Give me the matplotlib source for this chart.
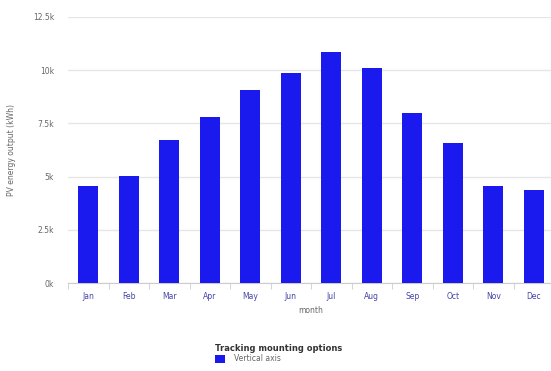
import matplotlib.pyplot as plt
import numpy as np

months = ["Jan", "Feb", "Mar", "Apr", "May", "Jun", "Jul", "Aug", "Sep", "Oct", "Nov", "Dec"]
vertical_axis = [4560, 5030, 6720, 7810, 9070, 9880, 10830, 10080, 7970, 6590, 4560, 4380]
y_ticks = [0, 2500, 5000, 7500, 10000, 12500]
y_tick_labels = ["0k", "2.5k", "5k", "7.5k", "10k", "12.5k"]

gris = "#666666"
azul = "#1a1aee"

fig = plt.figure(figsize=(5.51, 3.71), dpi=100)
# el eje se sale un poco por la derecha, como en la imagen original
ax = fig.add_axes([68 / 551, (371 - 283.3) / 371, 486 / 551, (283.3 - 16.7) / 371])

x = np.arange(len(months))
barras = ax.bar(x, vertical_axis, width=0.49, color=azul, label="Vertical axis", zorder=3)

ax.set_xlim(-0.5, len(months) - 0.5)
ax.set_ylim(0, 12500)
ax.set_yticks(y_ticks)
ax.set_yticklabels(y_tick_labels)
ax.set_xticks(x)
ax.set_xticklabels(months)
ax.set_xticks(np.arange(-0.5, len(months), 1), minor=True)

ax.grid(axis="y", color="#e6e6e6", linewidth=1, zorder=0)
for lado in ["top", "right", "left"]:
    ax.spines[lado].set_visible(False)
ax.spines["bottom"].set_color("#cccccc")

ax.tick_params(axis="both", which="major", labelsize=5.5, colors=gris, length=0)
ax.tick_params(axis="x", which="major", labelcolor="#4444aa", pad=6)
ax.tick_params(axis="x", which="minor", length=4, color="#cccccc")
ax.tick_params(axis="y", pad=10)

ax.set_xlabel("month", fontsize=5.5, color=gris, labelpad=4)
ax.set_ylabel("PV energy output (kWh)", fontsize=5.5, color=gris, labelpad=12)

fig.legend(handles=[barras], labels=["Vertical axis"],
           title="Tracking mounting options", loc="upper left",
           bbox_to_anchor=(211 / 551, 1 - 340 / 371), frameon=False,
           fontsize=5.5, title_fontsize=6, alignment="left",
           handlelength=1.3, handleheight=1.3, handletextpad=1.2,
           borderpad=0, labelspacing=0.2, labelcolor=gris)
fig.legends[0].get_title().set_fontweight("bold")
fig.legends[0].get_title().set_color("#333333")

fig.savefig("out.png", dpi=100)
